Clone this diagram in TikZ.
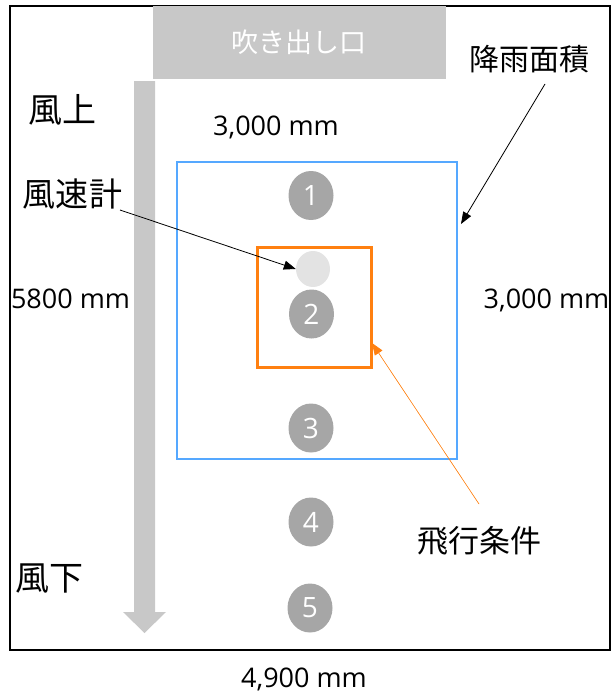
\documentclass[tikz,border=0pt]{standalone}
\usepackage{fontspec}
\setmainfont{Open Sans}
\newfontfamily\jp{Noto Sans CJK JP}
\usetikzlibrary{arrows.meta,shapes.geometric}
\definecolor{lgray}{HTML}{C8C8C8}
\definecolor{cgray}{HTML}{A6A6A6}
\definecolor{pale}{HTML}{E3E3E3}
\definecolor{bluel}{HTML}{55A8FF}
\definecolor{orng}{HTML}{FF8010}
\tikzset{
  num/.style={ellipse,fill=cgray,minimum width=45pt,minimum height=49pt,inner sep=0pt,text=white,font=\fontsize{28}{28}\selectfont},
  lbl/.style={inner sep=0pt,anchor=base,font=\fontsize{27}{27}\selectfont},
  jlbl/.style={inner sep=0pt},
  ptr/.style={-{Triangle[length=12pt,width=9pt]},line width=0.8pt}
}
\begin{document}
\begin{tikzpicture}[x=1pt,y=-1pt]
\useasboundingbox (0,0) rectangle (612,693);
\draw[line width=1.5pt] (10,6) rectangle (610,650);
% outlet
\fill[lgray] (153,6) rectangle (446,79);
\node[inner sep=0pt,text=white,font=\jp\fontsize{27}{27}\selectfont] (outlet) at (298.5,42) {吹き出し口};
% wind arrow
\fill[lgray] (134,81) -- (155,81) -- (155,612) -- (166,612) -- (144.5,633) -- (123,612) -- (134,612) -- cycle;
% rectangles
\node[draw=bluel,line width=2pt,minimum width=280pt,minimum height=297pt,inner sep=0pt] (rain) at (317,310.5) {};
\node[draw=orng,line width=3pt,minimum width=114pt,minimum height=120pt,inner sep=0pt] (flight) at (314,307) {};
% circles
\node[num] (c1) at (311,195.5) {1};
\node[ellipse,fill=pale,minimum width=34pt,minimum height=36pt,inner sep=0pt] (anem) at (313,269) {};
\node[num] (c2) at (311.5,314) {2};
\node[num] (c3) at (311,428) {3};
\node[num] (c4) at (311,522) {4};
\node[num] (c5) at (310,608) {5};
% labels
\node[jlbl,font=\jp\fontsize{34}{34}\selectfont] (up) at (62,110) {風上};
\node[jlbl,font=\jp\fontsize{34}{34}\selectfont] (down) at (49.5,579) {風下};
\node[jlbl,font=\jp\fontsize{33}{33}\selectfont] (anemL) at (72.5,194) {風速計};
\node[jlbl,font=\jp\fontsize{30}{30}\selectfont] (rainL) at (529,59) {降雨面積};
\node[jlbl,font=\jp\fontsize{31}{31}\selectfont] (flightL) at (479,540.5) {飛行条件};
\node[lbl] (w3) at (276,135) {3,000 mm};
\node[lbl] (h58) at (70.5,308) {5800 mm};
\node[lbl] (h3) at (546.5,308) {3,000 mm};
\node[lbl] (w49) at (304,687) {4,900 mm};
% pointers
\coordinate (a0) at (120,210);
\draw[ptr] (a0) -- (anem.west);
\coordinate (r0) at (545,84);
\coordinate (r1) at (461,224);
\draw[ptr] (r0) -- (r1);
\coordinate (f0) at (479,504);
\coordinate (f1) at (372,343);
\draw[ptr,draw=orng,fill=orng,line width=0.6pt] (f0) -- (f1);
\end{tikzpicture}
\end{document}
